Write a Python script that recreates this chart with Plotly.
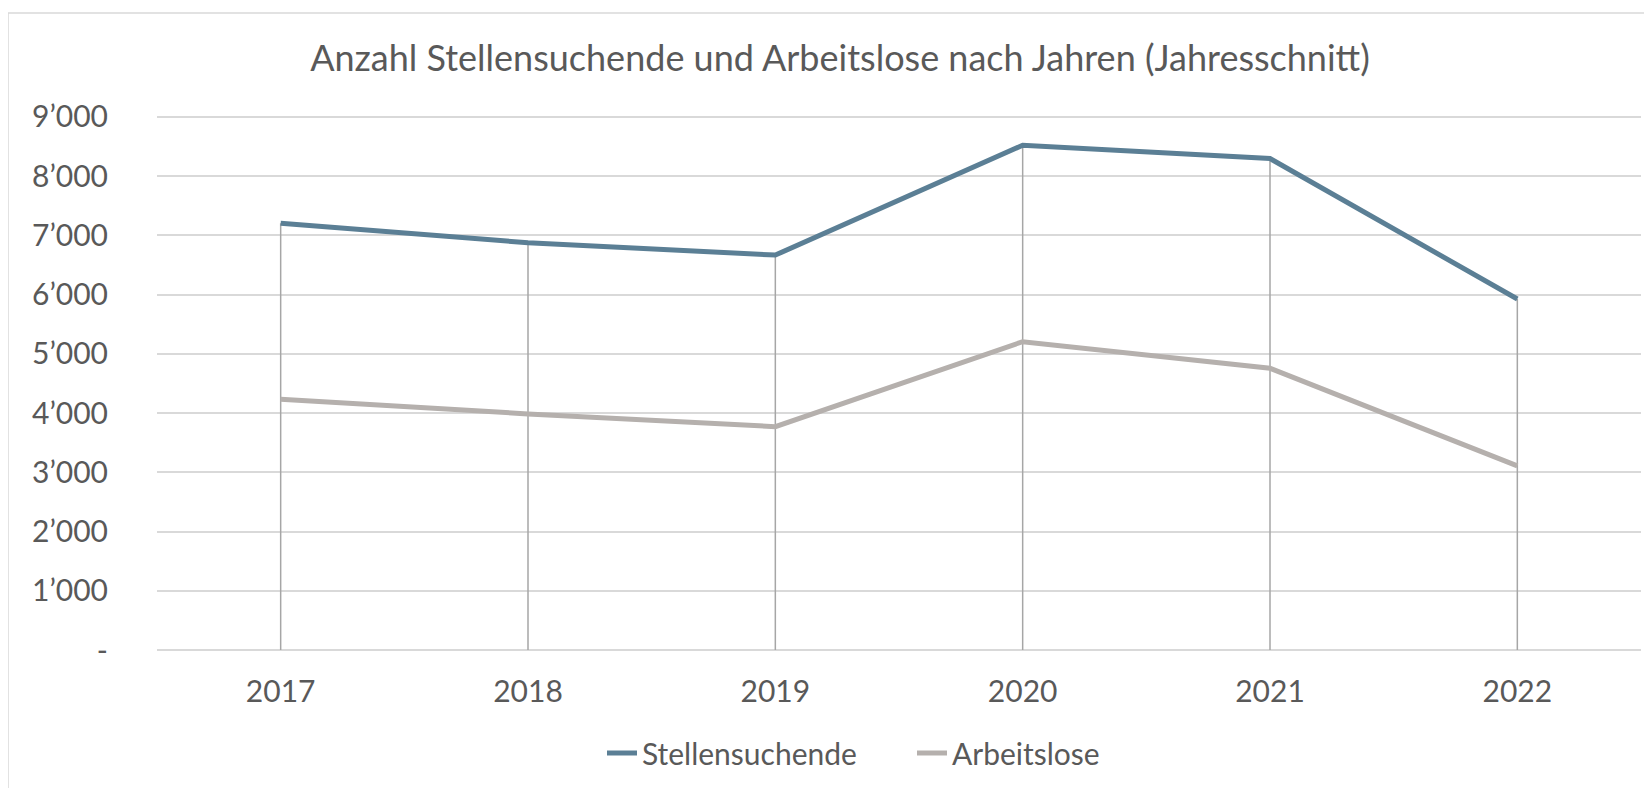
import plotly.graph_objects as go

years = ["2017", "2018", "2019", "2020", "2021", "2022"]
stellensuchende = [7207, 6876, 6668, 8523, 8298, 5926]
arbeitslose = [4234, 3987, 3772, 5206, 4757, 3110]
y_ticks = [0, 1000, 2000, 3000, 4000, 5000, 6000, 7000, 8000, 9000]

def fmt(v):
    if v == 0:
        return "-"
    return f"{v:,}".replace(",", "\u2019")

y_ticktext = [fmt(v) for v in y_ticks]

FONT = "Lato"
TXT = "#595959"
# page body has an 8px default margin, so the figure is sized/offset accordingly
W, H = 1644, 780
L, R, T, B = 149, 11, 103, 132

# drop lines from each Stellensuchende point down to zero
drop_x, drop_y = [], []
for yr, v in zip(years, stellensuchende):
    drop_x += [yr, yr, None]
    drop_y += [0, v, None]

fig = go.Figure()
fig.add_trace(go.Scatter(x=drop_x, y=drop_y, mode="lines",
                         line=dict(color="#a6a6a6", width=1.5),
                         showlegend=False, hoverinfo="skip"))
fig.add_trace(go.Scatter(x=years, y=stellensuchende, mode="lines", name="Stellensuchende",
                         line=dict(color="#5b7f95", width=5)))
fig.add_trace(go.Scatter(x=years, y=arbeitslose, mode="lines", name="Arbeitslose",
                         line=dict(color="#b5b0ad", width=5)))

pw = W - L - R
ph = H - T - B

fig.update_layout(
    width=W, height=H,
    margin=dict(l=L, r=R, t=T, b=B),
    paper_bgcolor="white", plot_bgcolor="white",
    font=dict(family=FONT, color=TXT, size=30),
    title=dict(text="Anzahl Stellensuchende und Arbeitslose nach Jahren (Jahresschnitt)",
               font=dict(family=FONT, size=36, color=TXT),
               x=832 / W, xanchor="center", xref="container",
               y=1 - 50 / H, yanchor="middle", yref="container"),
    xaxis=dict(type="category", categoryorder="array", categoryarray=years,
               range=[-0.5, len(years) - 0.5],
               showgrid=False, zeroline=False, showline=False,
               ticks="", tickfont=dict(size=30, color=TXT), ticklabelstandoff=15,
               fixedrange=True),
    yaxis=dict(range=[-100, 9100], tickvals=y_ticks, ticktext=y_ticktext,
               showgrid=True, gridcolor="#d9d9d9", gridwidth=1.5,
               zeroline=False, showline=False, ticks="",
               tickfont=dict(size=30, color=TXT), ticklabelstandoff=48),
    legend=dict(orientation="h", xref="container", yref="container",
                x=594 / W, xanchor="left", y=1 - 745 / H, yanchor="middle",
                font=dict(size=30, color=TXT), entrywidth=265, entrywidthmode="pixels"),
    shapes=[dict(type="rect", xref="paper", yref="paper",
                 x0=(0 - L) / pw, x1=(W + 20 - L) / pw,
                 y0=-(H + 20 - T - ph) / ph, y1=1 + (T - 5) / ph,
                 line=dict(color="#d9d9d9", width=1.5), fillcolor="rgba(0,0,0,0)",
                 layer="below")],
)

fig.write_html("out.html")
